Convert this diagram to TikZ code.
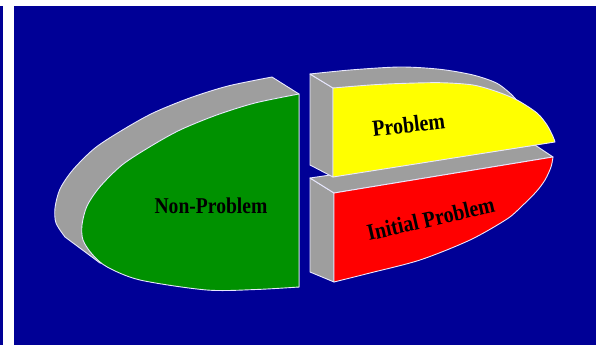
\documentclass[tikz,border=0pt]{standalone}
\usepackage{graphicx}
\usepackage{fontspec}
\setmainfont{Liberation Serif}
\definecolor{bgblue}{RGB}{0,0,150}
\definecolor{piegreen}{RGB}{0,145,0}
\definecolor{pieyellow}{RGB}{255,255,0}
\definecolor{piered}{RGB}{255,0,0}
\definecolor{sidegray}{RGB}{158,158,158}
\definecolor{edgecol}{RGB}{232,232,255}
\begin{document}
\begin{tikzpicture}[x=1pt,y=-1pt,
  pieceface/.style={draw=edgecol, line width=0.9pt, line join=round},
  pieceside/.style={pieceface, fill=sidegray},
  txt/.style={anchor=base, inner sep=0pt, text=black,
    font=\bfseries\fontsize{20}{24}\selectfont}]
\useasboundingbox (0,0) rectangle (602,345);
% page and blue panel
\fill[white] (0,0) rectangle (602,345);
\fill[bgblue] (14,6) rectangle (596,345);
\fill[bgblue] (0,6) rectangle (2.5,345);

% ---- left half: Non-Problem ----
% extruded side (back face silhouette)
\draw[pieceside] (299,94) -- plot[smooth] coordinates {(272,77) (228,86) (189.7,98) (153,113) (123,129.7) (95,148) (73,169.7) (60,189) (55,208) (56,223) (65,237)} -- (100,263) -- (299,287) -- cycle;
% front face
\draw[pieceface, fill=piegreen] plot[smooth] coordinates {(299,94) (255,103) (216.7,115) (180,130) (150,146.7) (122,165) (100,186.7) (87,206) (82,225) (83,240) (92,254) (106.7,266.7) (140,280) (206.7,290) (256,289.5) (299,287)} -- cycle;

% ---- lower right slice: Initial Problem ----
\draw[pieceside] (310,178) -- (334,193) -- (334,282) -- (310,272) -- cycle;
\draw[pieceside] (310,178) -- (535,145) -- (553,157) -- (334,193) -- cycle;
\draw[pieceface, fill=piered] (334,193) -- plot[smooth] coordinates {(553,157) (551,167) (545,180) (536,192) (522,206) (507,219) (470,240) (420,260) (370,273) (334,282)} -- cycle;

% ---- upper right slice: Problem ----
\draw[pieceside] (310,74) -- (333,88) -- (333,177) -- (310,165) -- cycle;
\draw[pieceside] plot[smooth] coordinates {(310,74) (350,70) (400,67) (440,69.3) (473,75) (497,83.3) (512,95)} -- (530,115) -- (540,138) -- (333,88) -- cycle;
\draw[pieceface, fill=pieyellow] plot[smooth] coordinates {(333,88) (370,85) (400,83.5) (440,82.7) (473,85) (497,91.7) (517,100) (537,113) (547,125) (553,136.5) (555,142)} -- (333,177) -- cycle;

% ---- labels ----
\node[txt, font=\bfseries\fontsize{19.6}{24}\selectfont] (nonproblem) at (211,213.3) {\scalebox{1}[1.15]{Non-Problem}};
\node[txt, rotate=6.7] (problem) at (409.5,132.5) {\scalebox{1}[1.15]{Problem}};
\node[txt, rotate=13] (initialproblem) at (432.5,226.3) {\scalebox{1}[1.15]{Initial Problem}};
\end{tikzpicture}
\end{document}
